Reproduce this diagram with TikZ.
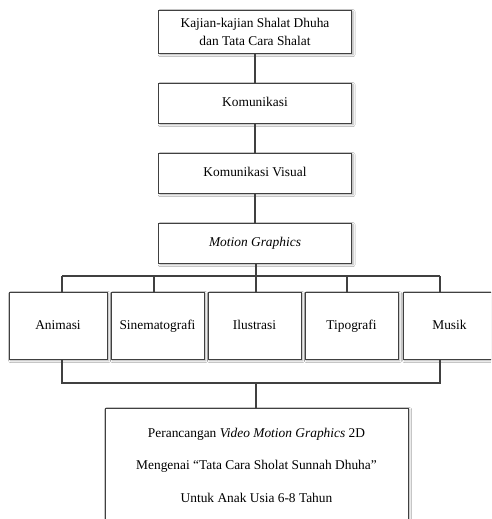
\documentclass[tikz,border=0pt]{standalone}
\usepackage{fontspec}
\setmainfont{Liberation Serif}
\usetikzlibrary{shadows.blur}
\begin{document}
\begin{tikzpicture}[x=1pt,y=-1pt,
  box/.style={draw=black!75, line width=0.9pt, fill=white, rectangle, inner sep=0pt,
    align=center, font=\fontsize{13.4}{18}\selectfont,
    blur shadow={shadow xshift=1.6pt, shadow yshift=-1.6pt, shadow blur radius=2pt, shadow opacity=35}},
  conn/.style={draw=black!75, line width=1.3pt}]
\useasboundingbox (0,0) rectangle (491,519);
\clip (0,0) rectangle (491,519);
\fill[white] (0,0) rectangle (491,519);

\node[box, minimum width=193pt, minimum height=43pt] (kaj) at (255,31.5) {Kajian-kajian Shalat Dhuha\\dan Tata Cara Shalat};
\node[box, minimum width=193pt, minimum height=40pt] (kom) at (255,103) {\strut Komunikasi};
\node[box, minimum width=193pt, minimum height=40pt] (kv) at (255,173) {\strut Komunikasi Visual};
\node[box, minimum width=193pt, minimum height=40pt] (mg) at (255,243) {\strut\textit{Motion Graphics}};

\node[box, minimum width=98pt, minimum height=67pt] (ani) at (58,325.5) {\strut Animasi};
\node[box, minimum width=93pt, minimum height=67pt] (sin) at (157.5,325.5) {\strut Sinematografi};
\node[box, minimum width=93pt, minimum height=67pt] (ilu) at (254.5,325.5) {\strut Ilustrasi};
\node[box, minimum width=93pt, minimum height=67pt] (tip) at (351.5,325.5) {\strut Tipografi};
\node[box, minimum width=93pt, minimum height=67pt] (mus) at (449.5,325.5) {\strut Musik};

\node[box, minimum width=303pt, minimum height=114pt, font=\fontsize{13.4}{32.5}\selectfont] (out) at (256.5,465)
  {Perancangan \textit{Video Motion Graphics} 2D\\Mengenai “Tata Cara Sholat Sunnah Dhuha”\\Untuk Anak Usia 6-8 Tahun};

% trunk
\draw[conn] (kaj.south) -- (kom.north);
\draw[conn] (kom.south) -- (kv.north);
\draw[conn] (kv.south) -- (mg.north);

% top bus
\coordinate (ta) at (62,276);
\coordinate (ts) at (154,276);
\coordinate (ti) at (256,276);
\coordinate (tt) at (347,276);
\coordinate (tm) at (440,276);
\draw[conn] (mg.south -| ti) -- (ti);
\draw[conn] (ta) -- (tm);
\draw[conn] (ta) -- (ta |- ani.north);
\draw[conn] (ts) -- (ts |- sin.north);
\draw[conn] (ti) -- (ti |- ilu.north);
\draw[conn] (tt) -- (tt |- tip.north);
\draw[conn] (tm) -- (tm |- mus.north);

% bottom bus
\coordinate (ba) at (62,383);
\coordinate (bm) at (440,383);
\coordinate (bo) at (256,383);
\draw[conn] (ba |- ani.south) -- (ba) -- (bm) -- (bm |- mus.south);
\draw[conn] (bo) -- (bo |- out.north);
\end{tikzpicture}
\end{document}
